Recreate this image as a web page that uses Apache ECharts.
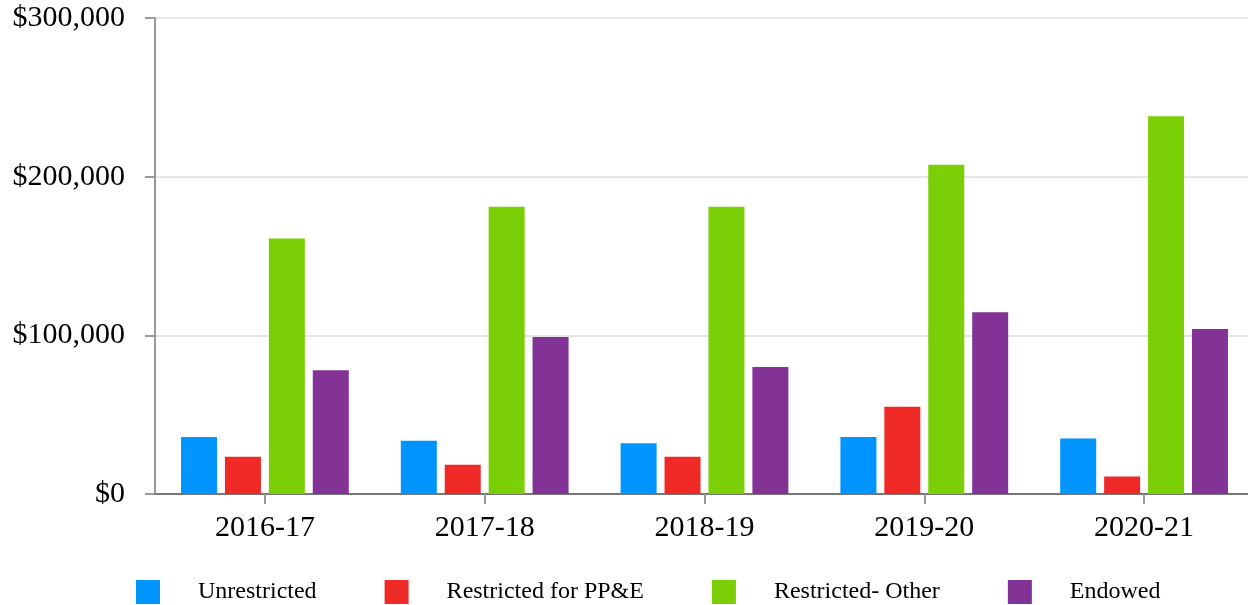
<!DOCTYPE html>
<html>
<head>
<meta charset="utf-8">
<script src="https://cdn.jsdelivr.net/npm/echarts@6/dist/echarts.min.js"></script>
<style>
html,body{margin:0;padding:0;background:#fff;overflow:hidden;}
#chart{width:1254px;height:605px;}
</style>
</head>
<body>
<div id="chart"></div>
<script>
const categories = ['2016-17', '2017-18', '2018-19', '2019-20', '2020-21'];
const seriesNames = ['Unrestricted', 'Restricted for PP&E', 'Restricted- Other', 'Endowed'];
const unrestricted = [36000, 33500, 32000, 36000, 35000];
const restrictedPPE = [23500, 18500, 23500, 55000, 11000];
const restrictedOther = [161000, 181000, 181000, 207500, 238000];
const endowed = [78000, 99000, 80000, 114500, 104000];
const colors = ['#0094FF', '#EE2926', '#7BCF06', '#833296'];

const FONT = "'Liberation Serif', 'Times New Roman', serif";
const dataSets = [unrestricted, restrictedPPE, restrictedOther, endowed];

const chart = echarts.init(document.getElementById('chart'));
chart.setOption({
  animation: false,
  backgroundColor: '#fff',
  grid: { left: 155, right: 0, top: 18, bottom: 111, containLabel: false },
  legend: {
    left: 136, top: 580, padding: 0,
    itemWidth: 24, itemHeight: 24, itemGap: 68,
    icon: 'rect',
    textStyle: { fontFamily: FONT, fontSize: 24, color: '#000', padding: [4, 0, 0, 33] },
    data: seriesNames
  },
  xAxis: {
    type: 'category',
    data: categories,
    axisLine: { show: true, lineStyle: { color: '#777', width: 2 } },
    axisTick: { show: true, alignWithLabel: true, length: 10, lineStyle: { color: '#999', width: 2 } },
    axisLabel: { fontFamily: FONT, fontSize: 30, color: '#000', margin: 19 }
  },
  yAxis: {
    type: 'value',
    min: 0, max: 300000, interval: 100000,
    axisLine: { show: true, lineStyle: { color: '#999', width: 2 } },
    axisTick: { show: true, length: 10, lineStyle: { color: '#999', width: 2 } },
    splitLine: { show: true, lineStyle: { color: '#e6e6e6', width: 2 } },
    axisLabel: {
      fontFamily: FONT, fontSize: 30, color: '#000', margin: 30,
      formatter: v => '$' + v.toLocaleString('en-US')
    }
  },
  series: seriesNames.map((name, i) => ({
    name: name,
    type: 'bar',
    data: dataSets[i],
    barWidth: 36,
    barGap: '22%',
    itemStyle: { color: colors[i] }
  }))
});
</script>
</body>
</html>
